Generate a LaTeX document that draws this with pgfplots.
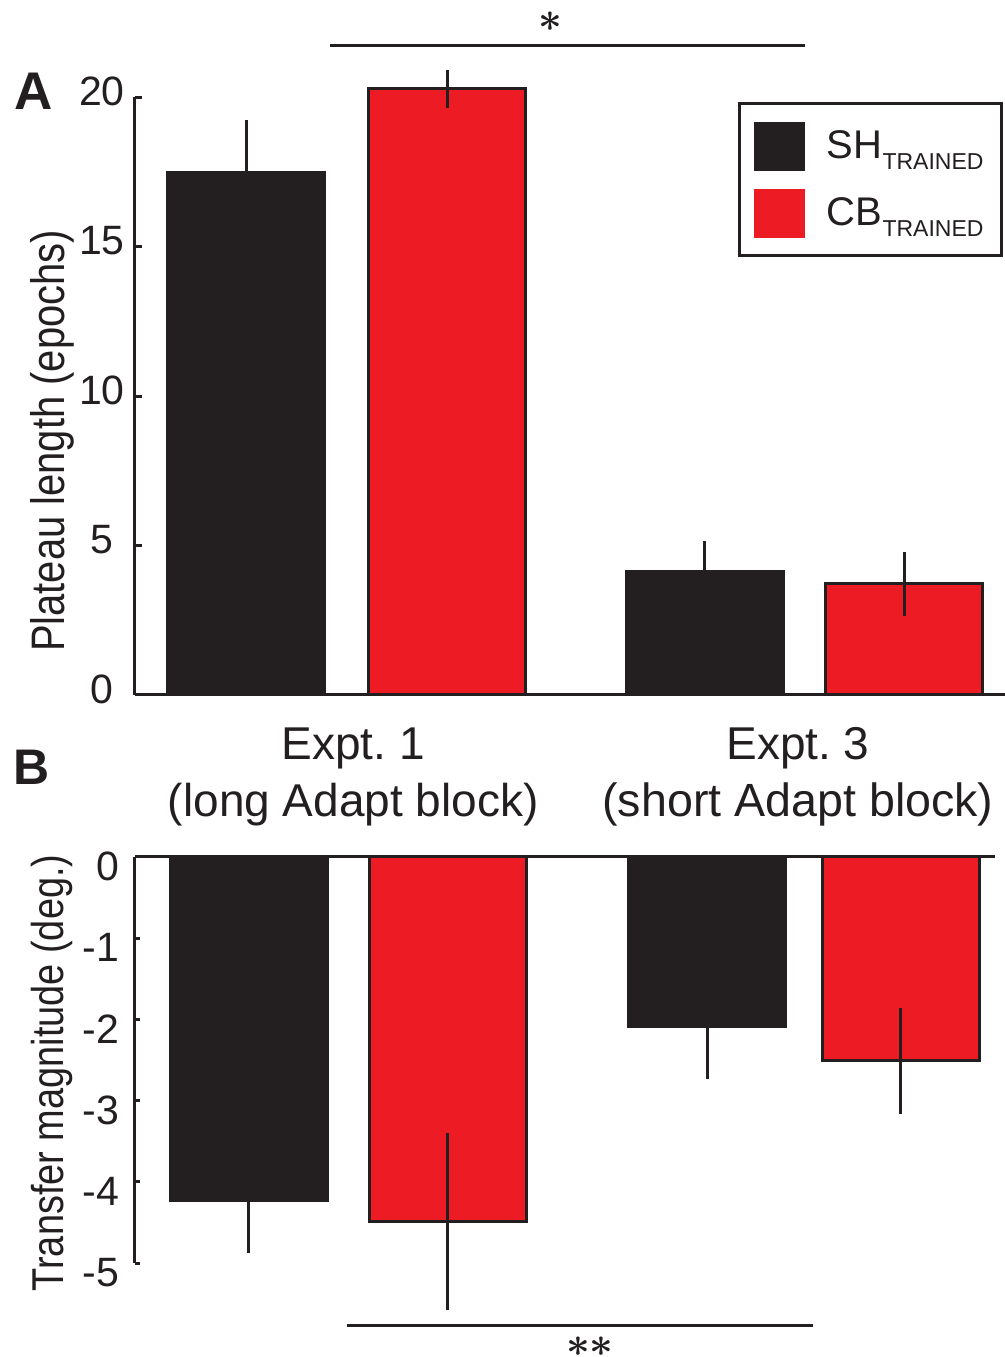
\documentclass[border=0pt]{standalone}
\usepackage{fontspec}
\setmainfont{Liberation Sans}
\newfontfamily\narrowfont{Liberation Sans}[FakeStretch=0.85]
\usepackage{pgfplots}
\pgfplotsset{compat=1.18}
\definecolor{barblack}{HTML}{231F20}
\definecolor{barred}{HTML}{ED1C24}

\begin{document}
\begin{tikzpicture}
\useasboundingbox (0pt,0pt) rectangle (502.5pt,678.5pt);
\pgfplotsset{
  panel/.style={
    scale only axis, clip=false,
    xmin=0.446,
    axis line style={-, line width=1.5pt, draw=barblack},
    xtick=\empty,
    tick align=inside,
    tick style={line width=1.5pt, draw=barblack},
    /pgf/number format/assume math mode=true,
    yticklabel style={inner sep=0pt, font=\fontsize{20.5}{24}\selectfont, text=barblack},
    ylabel style={font=\narrowfont\fontsize{23.5}{28}\selectfont, anchor=center, text=barblack},
  },
  bk/.style={ybar, bar width=0.781, bar shift=0pt, fill=barblack, draw=barblack, line width=1.5pt,
    legend image code/.code={\fill[barblack] (0pt,-11.5pt) rectangle (24pt,11.5pt);},
    error bars/.cd, y dir=both, y explicit, error mark=none,
    error bar style={line width=1.5pt, draw=barblack, solid}},
  rd/.style={ybar, bar width=0.781, bar shift=0pt, fill=barred, draw=barblack, line width=1.5pt,
    legend image code/.code={\fill[barred] (0pt,-11.5pt) rectangle (24pt,11.5pt);},
    error bars/.cd, y dir=both, y explicit, error mark=none,
    error bar style={line width=1.5pt, draw=barblack, solid}},
}

% ---------------- Panel A ----------------
\begin{axis}[panel, at={(67.5pt,331pt)}, anchor=south west,
  width=435pt, height=298.85pt,
  xmax=4.774, ymin=0, ymax=20,
  axis x line*=bottom, axis y line*=left,
  ytick={0,5,10,15,20}, major tick length=3.6pt,
  yticklabel style={anchor=center, xshift=-16.5pt, yshift=3pt},
  ylabel={Plateau length (epochs)},
  ylabel style={at={(axis description cs:-0.0954,0.425)}},
  legend style={at={(0.9977,0.9921)}, anchor=north east, draw=barblack, line width=1.5pt,
    fill=white, font=\fontsize{20}{24}\selectfont, text=barblack,
    inner xsep=7pt, inner ysep=9pt, row sep=9pt, cells={anchor=west},
    /tikz/every odd column/.append style={column sep=9pt}},
]
\addplot[bk] coordinates {(1,17.48) +- (0,1.75) (3.280,4.13) +- (0,1.03)};
\addlegendentry{SH\raisebox{-5.5pt}{\fontsize{11.5}{13}\selectfont TRAINED}}
\addplot[rd] coordinates {(2.0,20.28) +- (0,0.63) (4.272,3.72) +- (0,1.06)};
\addlegendentry{CB\raisebox{-5.5pt}{\fontsize{11.5}{13}\selectfont TRAINED}}

\draw[line width=1.5pt, barblack] (axis cs:1.416,21.73) -- (axis cs:3.777,21.73);
\node[inner sep=0pt, font=\fontsize{20}{24}\selectfont\boldmath, text=barblack] at (axis cs:2.511,22.52) {$\ast$};

\node[anchor=base, yshift=-32.5pt, font=\fontsize{23}{28}\selectfont, text=barblack] at (axis cs:1.532,0) {Expt.\ 1};
\node[anchor=base, yshift=-60.5pt, font=\fontsize{23}{28}\selectfont, text=barblack] at (axis cs:1.532,0) {(long Adapt block)};
\node[anchor=base, yshift=-32.5pt, font=\fontsize{23}{28}\selectfont, text=barblack] at (axis cs:3.744,0) {Expt.\ 3};
\node[anchor=base, yshift=-60.5pt, font=\fontsize{23.3}{28}\selectfont, text=barblack] at (axis cs:3.744,0) {(short Adapt block)};
\end{axis}

% ---------------- Panel B ----------------
\begin{axis}[panel, at={(67.5pt,46.85pt)}, anchor=south west,
  width=430pt, height=203.3pt,
  xmax=4.7246, ymin=-5, ymax=0,
  axis x line*=top, axis y line*=left,
  ytick={-5,-4,-3,-2,-1,0}, yticklabels={-5,-4,-3,-2,-1,0}, major tick length=2.5pt,
  yticklabel style={anchor=east, xshift=-7.7pt, yshift=-4.7pt},
  ylabel={Transfer magnitude (deg.)},
  ylabel style={font=\narrowfont\fontsize{22.3}{26}\selectfont, at={(axis description cs:-0.0965,0.468)}},
]
\addplot[bk] coordinates {(1.012,-4.23) +- (0,0.64) (3.294,-2.09) +- (0,0.64)};
\addplot[rd] coordinates {(2.002,-4.49) +- (0,1.09) (4.256,-2.51) +- (0,0.65)};

\draw[line width=1.5pt, barblack] (axis cs:1.502,-5.764) -- (axis cs:3.821,-5.764);
\node[inner sep=0pt, font=\fontsize{20}{24}\selectfont\boldmath, text=barblack] at (axis cs:2.709,-6.02) {$\ast\ast$};
\end{axis}

\node[anchor=base west, inner sep=0pt, font=\bfseries\fontsize{26.5}{30}\selectfont, text=barblack] at (7pt,623.5pt) {A};
\node[anchor=base west, inner sep=0pt, font=\bfseries\fontsize{25}{30}\selectfont, text=barblack] at (6.5pt,286pt) {B};
\end{tikzpicture}
\end{document}
